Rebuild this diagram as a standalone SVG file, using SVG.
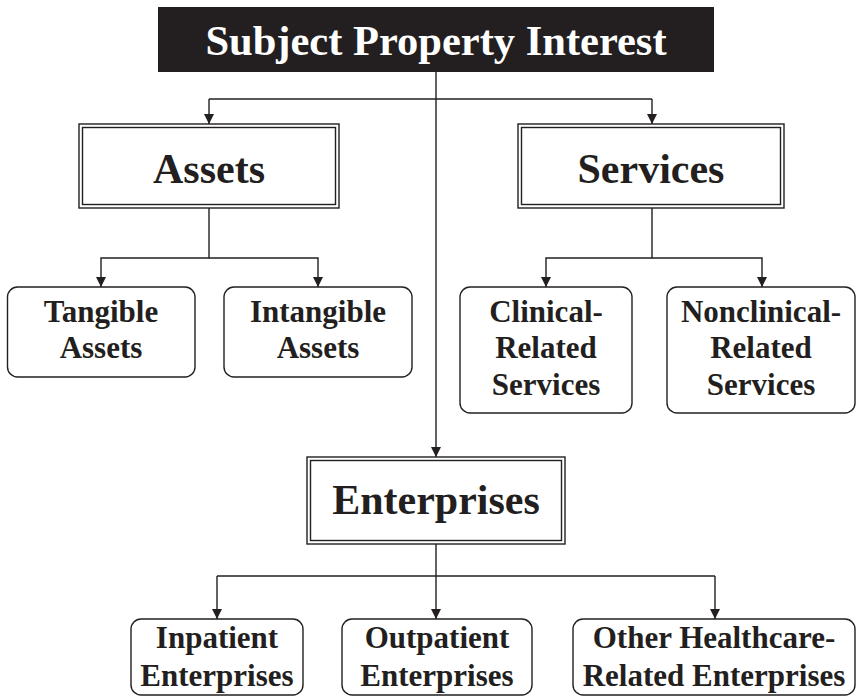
<svg xmlns="http://www.w3.org/2000/svg" width="856" height="696" viewBox="0 0 856 696">
  <style>
    text { font-family: "Liberation Serif", "Times New Roman", serif; font-weight: bold; fill: #231f20; text-anchor: middle; }
    .title { fill: #ffffff; font-size: 42.5px; }
    .big { font-size: 42px; }
    .small { font-size: 31px; }
    .outer { fill: #ffffff; stroke: #231f20; stroke-width: 1.4; }
    .inner { fill: none; stroke: #231f20; stroke-width: 1.4; }
    .round { fill: #ffffff; stroke: #231f20; stroke-width: 1.4; }
    .link { fill: none; stroke: #231f20; stroke-width: 1.4; }
  </style>
  <defs>
    <marker id="arrow" viewBox="0 0 10 14" refX="10" refY="7" markerWidth="10" markerHeight="14" markerUnits="userSpaceOnUse" orient="auto">
      <path d="M0,2 L10,7 L0,12 Z" fill="#231f20"/>
    </marker>
  </defs>
  <rect width="856" height="696" fill="#ffffff"/>

  <!-- connectors -->
  <g id="connectors">
    <path class="link" d="M436,72 V457" marker-end="url(#arrow)"/>
    <path class="link" d="M209,99 H652"/>
    <path class="link" d="M209,99 V124" marker-end="url(#arrow)"/>
    <path class="link" d="M652,99 V124" marker-end="url(#arrow)"/>
    <path class="link" d="M209,208 V258 H101 V287" marker-end="url(#arrow)"/>
    <path class="link" d="M209,258 H318 V287" marker-end="url(#arrow)"/>
    <path class="link" d="M652,208 V258 H546 V287" marker-end="url(#arrow)"/>
    <path class="link" d="M652,258 H762 V287" marker-end="url(#arrow)"/>
    <path class="link" d="M436,544 V619" marker-end="url(#arrow)"/>
    <path class="link" d="M217,576 H715"/>
    <path class="link" d="M217,576 V619" marker-end="url(#arrow)"/>
    <path class="link" d="M715,576 V619" marker-end="url(#arrow)"/>
  </g>

  <!-- root -->
  <g id="subject-property-interest">
    <rect x="158" y="7" width="556" height="65" fill="#231f20"/>
    <text class="title" x="436" y="55">Subject Property Interest</text>
  </g>

  <g id="assets">
    <rect class="outer" x="79" y="124" width="260" height="84"/>
    <rect class="inner" x="82.5" y="127.5" width="253" height="77"/>
    <text class="big" x="209" y="183">Assets</text>
  </g>

  <g id="services">
    <rect class="outer" x="518" y="124" width="266" height="84"/>
    <rect class="inner" x="521.5" y="127.5" width="259" height="77"/>
    <text class="big" x="651" y="183">Services</text>
  </g>

  <g id="tangible-assets">
    <rect class="round" x="7.5" y="287" width="187.5" height="90" rx="10"/>
    <text class="small" x="101" y="322">Tangible</text>
    <text class="small" x="101" y="358">Assets</text>
  </g>

  <g id="intangible-assets">
    <rect class="round" x="224" y="287" width="188" height="90" rx="10"/>
    <text class="small" x="318" y="322">Intangible</text>
    <text class="small" x="318" y="358">Assets</text>
  </g>

  <g id="clinical-services">
    <rect class="round" x="460" y="287" width="172" height="126" rx="10"/>
    <text class="small" x="546" y="322">Clinical-</text>
    <text class="small" x="546" y="358">Related</text>
    <text class="small" x="546" y="395">Services</text>
  </g>

  <g id="nonclinical-services">
    <rect class="round" x="667" y="287" width="188" height="126" rx="10"/>
    <text class="small" x="761" y="322">Nonclinical-</text>
    <text class="small" x="761" y="358">Related</text>
    <text class="small" x="761" y="395">Services</text>
  </g>

  <g id="enterprises">
    <rect class="outer" x="307" y="457" width="258" height="87"/>
    <rect class="inner" x="310.5" y="460.5" width="251" height="80"/>
    <text class="big" x="436" y="514">Enterprises</text>
  </g>

  <g id="inpatient-enterprises">
    <rect class="round" x="131" y="619" width="172" height="76" rx="10"/>
    <text class="small" x="217" y="648">Inpatient</text>
    <text class="small" x="217" y="686">Enterprises</text>
  </g>

  <g id="outpatient-enterprises">
    <rect class="round" x="342" y="619" width="190" height="76" rx="10"/>
    <text class="small" x="437" y="648">Outpatient</text>
    <text class="small" x="437" y="686">Enterprises</text>
  </g>

  <g id="other-enterprises">
    <rect class="round" x="573" y="619" width="282" height="76" rx="10"/>
    <text class="small" x="714" y="648">Other Healthcare-</text>
    <text class="small" x="714" y="686">Related Enterprises</text>
  </g>
</svg>
